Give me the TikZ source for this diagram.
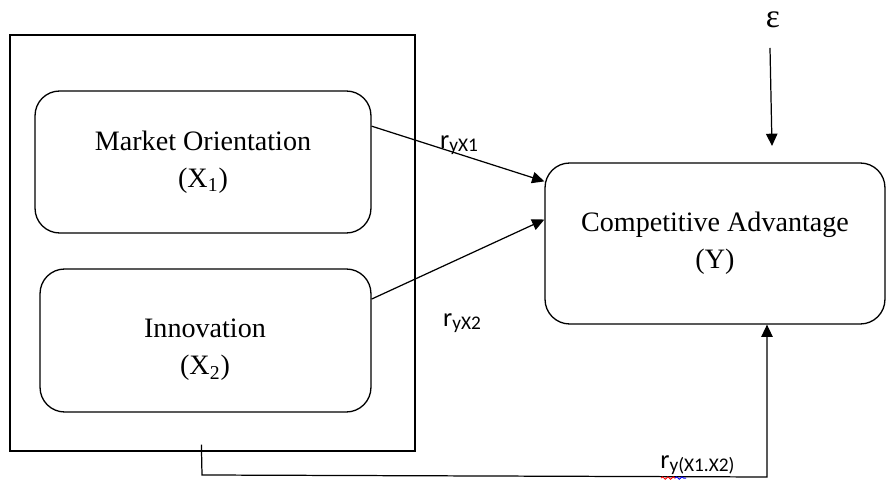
\documentclass[tikz,border=0pt]{standalone}
\usepackage{fontspec}
\setmainfont{Liberation Serif}
\newfontfamily\lblfont{Carlito}
\usetikzlibrary{arrows.meta,calc,decorations.pathmorphing}
\begin{document}
\begin{tikzpicture}[x=0.02cm,y=-0.02cm,
  box/.style={draw, line width=0.75pt, rounded corners=14pt, align=center,
    font=\fontsize{16}{21}\selectfont, inner sep=0pt},
  frame/.style={draw, line width=0.75pt, inner sep=0pt},
  conn/.style={line width=0.7pt, -{Triangle[length=7pt,width=6.5pt]}},
  lbl/.style={font=\lblfont\fontsize{15}{16}\selectfont, inner sep=0pt}
]
\useasboundingbox (0,0) rectangle (887,482);

\node[frame, minimum width=8.1cm, minimum height=8.32cm] (outer) at (212.5,243) {};
\node[box, minimum width=6.72cm, minimum height=2.84cm] (box1) at (203,162)
  {Market Orientation\\(X\textsubscript{1})};
\node[box, minimum width=6.62cm, minimum height=2.86cm] (box2) at (205.5,340.5) {};
\node[align=center, font=\fontsize{16}{21}\selectfont] (box2txt) at (205,350)
  {Innovation\\(X\textsubscript{2})};
\node[box, minimum width=6.8cm, minimum height=3.22cm] (boxY) at (715,243.5)
  {Competitive Advantage\\(Y)};

\node[font=\fontsize{19}{20}\selectfont, inner sep=0pt] (eps) at (773,20) {ε};
\coordinate (epsend) at (772,146);
\draw[conn] (770,48) -- (epsend);

\draw[conn] (box1.12.7) -- (boxY.160.4);
\draw[conn] (box2.14.7) -- (boxY.172.8);

\coordinate (bstart) at ($(outer.south west)+(192,-7)$);
\coordinate (bcorner) at (202,475);
\draw[conn] (bstart) -- (bcorner) -- (767,477) -- (boxY.south -| 767,0);

\node[lbl] (r1) at (459,145) {r{\fontsize{11}{12}\selectfont\raisebox{-2pt}{yX1}}};
\node[lbl] (r2) at (462,323) {r{\fontsize{11}{12}\selectfont\raisebox{-2pt}{yX2}}};
\node[lbl, anchor=west] (r3) at (660,465) {r{\fontsize{11}{12}\selectfont\raisebox{-2pt}{y(X1.X2)}}};
\draw[red, line width=0.5pt, decorate, decoration={snake, amplitude=0.7pt, segment length=3pt}]
  ($(r3.south west)+(1,3)$) -- ($(r3.south west)+(15,3)$);
\draw[blue, line width=0.5pt, decorate, decoration={snake, amplitude=0.7pt, segment length=3pt}]
  ($(r3.south west)+(15,3)$) -- ($(r3.south west)+(26,3)$);
\end{tikzpicture}
\end{document}
